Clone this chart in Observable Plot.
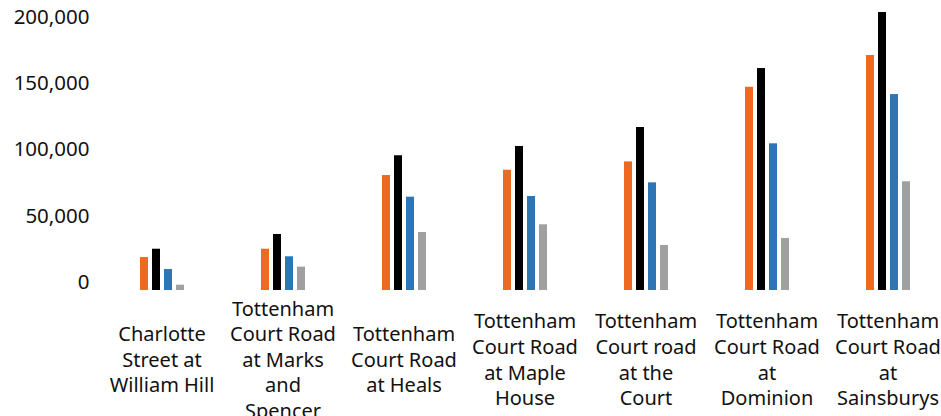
<!DOCTYPE html>
<html>
<head>
<meta charset="utf-8">
<script src="https://cdn.jsdelivr.net/npm/d3@7"></script>
<script src="https://cdn.jsdelivr.net/npm/@observablehq/plot@0.6"></script>
<style>
  html, body { margin: 0; padding: 0; background: #fff; }
  #chart svg { display: block; }
</style>
</head>
<body>
<div id="chart"></div>
<script>
const categories = [
  "Charlotte Street at William Hill",
  "Tottenham Court Road at Marks and Spencer",
  "Tottenham Court Road at Heals",
  "Tottenham Court Road at Maple House",
  "Tottenham Court road at the Court",
  "Tottenham Court Road at Dominion",
  "Tottenham Court Road at Sainsburys"
];
const categoryLabels = [
  "Charlotte\nStreet at\nWilliam Hill",
  "Tottenham\nCourt Road\nat Marks\nand\nSpencer",
  "Tottenham\nCourt Road\nat Heals",
  "Tottenham\nCourt Road\nat Maple\nHouse",
  "Tottenham\nCourt road\nat the\nCourt",
  "Tottenham\nCourt Road\nat\nDominion",
  "Tottenham\nCourt Road\nat\nSainsburys"
];
const seriesNames = ["Series 1", "Series 2", "Series 3", "Series 4"];
const series1 = [24900, 31100, 86600, 90600, 96900, 153100, 177000];
const series2 = [31100, 42200, 101500, 108500, 122800, 167200, 209400];
const series3 = [15800, 25400, 70300, 70800, 81100, 110500, 147600];
const series4 = [4000, 17600, 43700, 49500, 33900, 39200, 81900];
const yTicks = [0, 50000, 100000, 150000, 200000];
const seriesColors = ["#EE6A22", "#000000", "#2E75B6", "#A0A0A0"];

const allSeries = [series1, series2, series3, series4];
const data = categories.flatMap((c, i) =>
  seriesNames.map((s, j) => ({category: c, series: s, value: allSeries[j][i]}))
);
const labelOf = new Map(categories.map((c, i) => [c, categoryLabels[i]]));

const chart = Plot.plot({
  width: 941,
  height: 416,
  marginLeft: 100,
  marginRight: 0,
  marginTop: 0,
  marginBottom: 126,
  style: {fontFamily: "'Noto Sans', Lato, sans-serif", fontSize: "20px", color: "#111", background: "#fff"},
  fx: {domain: categories, range: [100.5, 947.5], padding: 0, axis: null, label: null},
  x: {domain: seriesNames, range: [138.5, 183.5], paddingInner: 0.35, paddingOuter: 0, axis: null},
  y: {domain: [0, 200000], range: [290, 24.5], axis: null},
  color: {domain: seriesNames, range: seriesColors},
  marks: [
    Plot.barY(data, {fx: "category", x: "series", y: "value", fill: "series", inset: 0}),
    Plot.axisY(yTicks, {
      anchor: "left", tickSize: 0, tickPadding: 12, dy: -8,
      tickFormat: d3.format(","), label: null, fontSize: 20.5
    }),
    Plot.axisFx({
      anchor: "bottom", tickSize: 0, tickPadding: 0, dy: 68,
      lineAnchor: "middle", lineHeight: 1.28, fontSize: 20,
      tickFormat: (d) => labelOf.get(d), label: null
    })
  ]
});
document.getElementById("chart").appendChild(chart);
</script>
</body>
</html>
